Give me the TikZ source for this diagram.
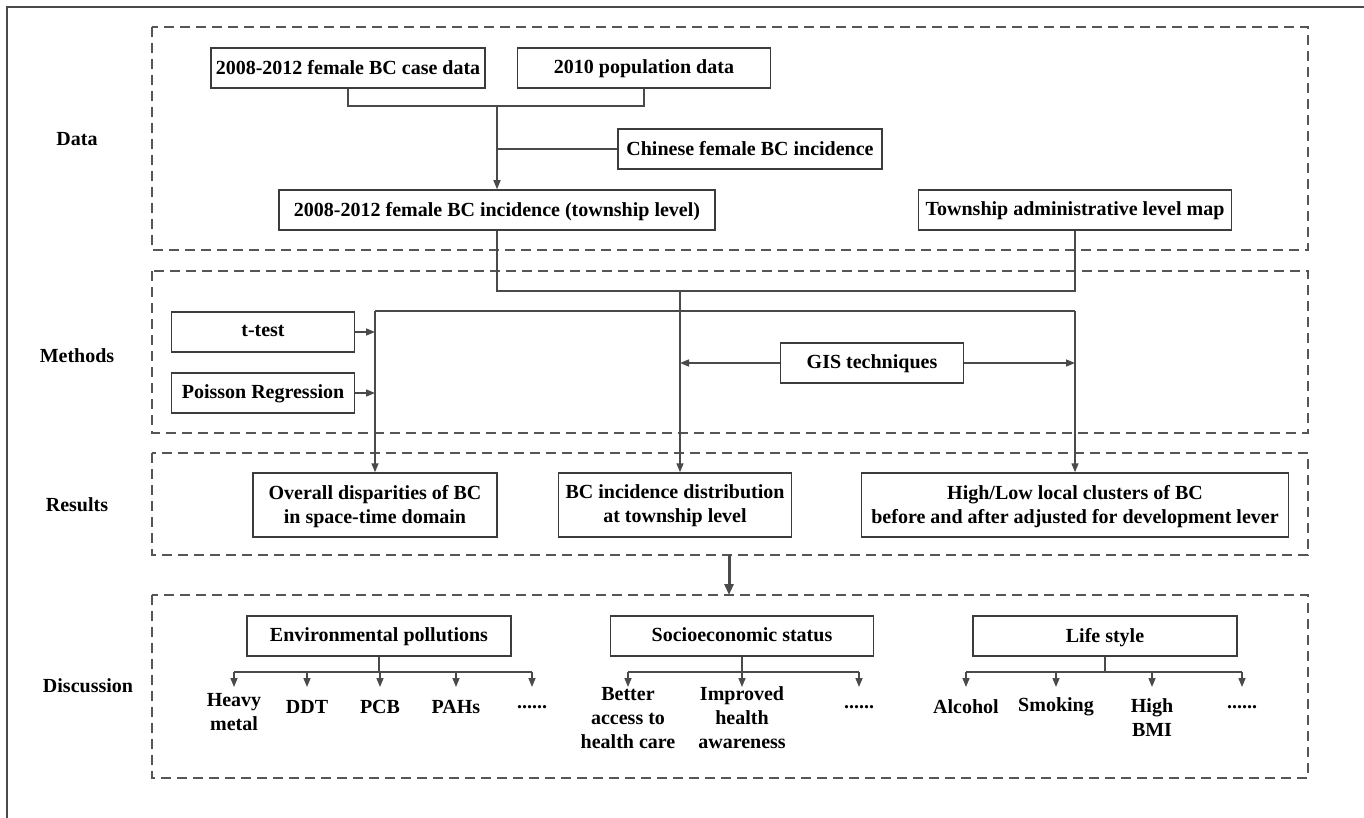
\documentclass[tikz,border=0pt]{standalone}
\usepackage{fontspec}
\setmainfont{Liberation Serif}
\usetikzlibrary{arrows.meta, positioning}
\definecolor{boxgray}{HTML}{3C3C3C}
\definecolor{linegray}{HTML}{4A4A4A}
\definecolor{dashgray}{HTML}{555555}
\tikzset{every picture/.style={line width=1.5pt}}

\begin{document}
\begin{tikzpicture}[x=1pt, y=-1pt, >={Triangle[length=9pt,width=7pt]},
    font=\fontsize{20}{24}\selectfont\bfseries,
    box/.style={draw=boxgray, fill=white, minimum height=40pt, inner sep=2pt, align=center, text depth=0.45ex},
    group/.style={draw=dashgray, dash pattern=on 10pt off 6pt},
    link/.style={draw=linegray},
    item/.style={align=center, inner sep=0pt}]
        \useasboundingbox (0,0) rectangle (1364,818);
        \draw[linegray, line width=2pt] (1364,7) -- (7,7) -- (7,818);

        % dashed groups
        \draw[group] (152,27) rectangle (1308,250);
        \draw[group] (152,271) rectangle (1308,433);
        \draw[group] (152,453) rectangle (1308,555);
        \draw[group] (152,595) rectangle (1308,778);

        \node (ldata) at (77,139) {Data};
        \node (lmeth) at (77,356) {Methods};
        \node (lres) at (77,505) {Results};
        \node (ldisc) at (88,686) {Discussion};

        % data
        \node[box, minimum width=274pt] (case) at (348,68) {2008-2012 female BC case data};
        \node[box, minimum width=253pt] (pop) at (644,68) {2010 population data};
        \node[box, minimum width=264pt] (chn) at (750,149) {Chinese female BC incidence};
        \node[box, minimum width=436pt] (inc) at (497,210) {2008-2012 female BC incidence (township level)};
        \node[box, minimum width=313pt] (map) at (1075,210) {Township administrative level map};

        \coordinate (j1) at (497,106);
        \draw[link] (case.south) |- (j1) -| (pop.south);
        \draw[link,->] (j1) -- (inc.north);
        \draw[link] (chn.west) -- (chn.west -| j1);

        % methods
        \node[box, minimum width=183pt] (ttest) at (263,332) {t-test};
        \node[box, minimum width=183pt] (poisson) at (263,393) {Poisson Regression};
        \node[box, minimum width=183pt] (gis) at (872,363) {GIS techniques};

        \coordinate (j2) at (680,291);
        \coordinate (j3) at (375,311);
        \coordinate (j4) at (1075,311);
        \draw[link] (inc.south) |- (j2) -| (map.south);
        \draw[link] (j3) -- (j4);
        \draw[link,->] (ttest.east) -- (ttest.east -| j3);
        \draw[link,->] (poisson.east) -- (poisson.east -| j3);
        \draw[link,->] (gis.west) -- (gis.west -| j2);
        \draw[link,->] (gis.east) -- (gis.east -| j4);

        % results
        \node[box, minimum width=244pt, minimum height=64pt] (res1) at (375,505) {Overall disparities of BC\\in space-time domain};
        \node[box, minimum width=233pt, minimum height=64pt] (res2) at (675,505) {BC incidence distribution\\at township level};
        \node[box, minimum width=427pt, minimum height=64pt] (res3) at (1075,505) {High/Low local clusters of BC\\before and after adjusted for development lever};

        \draw[link,->] (j3) -- (j3 |- res1.north);
        \draw[link,->] (j2) -- (j2 |- res2.north);
        \draw[link,->] (j4) -- (j4 |- res3.north);

        \coordinate (k1) at (729,555);
        \coordinate (k2) at (729,595);
        \draw[link, line width=3pt, -{Triangle[length=11pt,width=9pt]}] (k1) -- (k2);

        % discussion
        \node[box, minimum width=264pt] (env) at (379,636) {Environmental pollutions};
        \node[box, minimum width=263pt] (soc) at (742,636) {Socioeconomic status};
        \node[box, minimum width=264pt] (life) at (1105,636) {Life style};
        \coordinate (br) at (0,672);
        \coordinate (tip) at (0,687);

        \node[item] (e1) at (234,712) {Heavy\\metal};
        \node[item] (e2) at (307,707) {DDT};
        \node[item] (e3) at (380,707) {PCB};
        \node[item] (e4) at (456,707) {PAHs};
        \node[item] (e5) at (532,707) {......};
        \node[item] (s1) at (628,718) {Better\\access to\\health care};
        \node[item] (s2) at (742,718) {Improved\\health\\awareness};
        \node[item] (s3) at (859,707) {......};
        \node[item] (l1) at (966,707) {Alcohol};
        \node[item] (l2) at (1056,707) {Smoking};
        \node[item] (l3) at (1152,718) {High\\BMI};
        \node[item] (l4) at (1242,707) {......};

        \draw[link] (env.south) -- (env.south |- br);
        \draw[link] (e1 |- br) -- (e5 |- br);
        \draw[link] (soc.south) -- (soc.south |- br);
        \draw[link] (s1 |- br) -- (s3 |- br);
        \draw[link] (life.south) -- (life.south |- br);
        \draw[link] (l1 |- br) -- (l4 |- br);
        \foreach \n in {e1,e2,e3,e4,e5,s1,s2,s3,l1,l2,l3,l4}
            \draw[link,->] (\n |- br) -- (\n |- tip);
\end{tikzpicture}
\end{document}
